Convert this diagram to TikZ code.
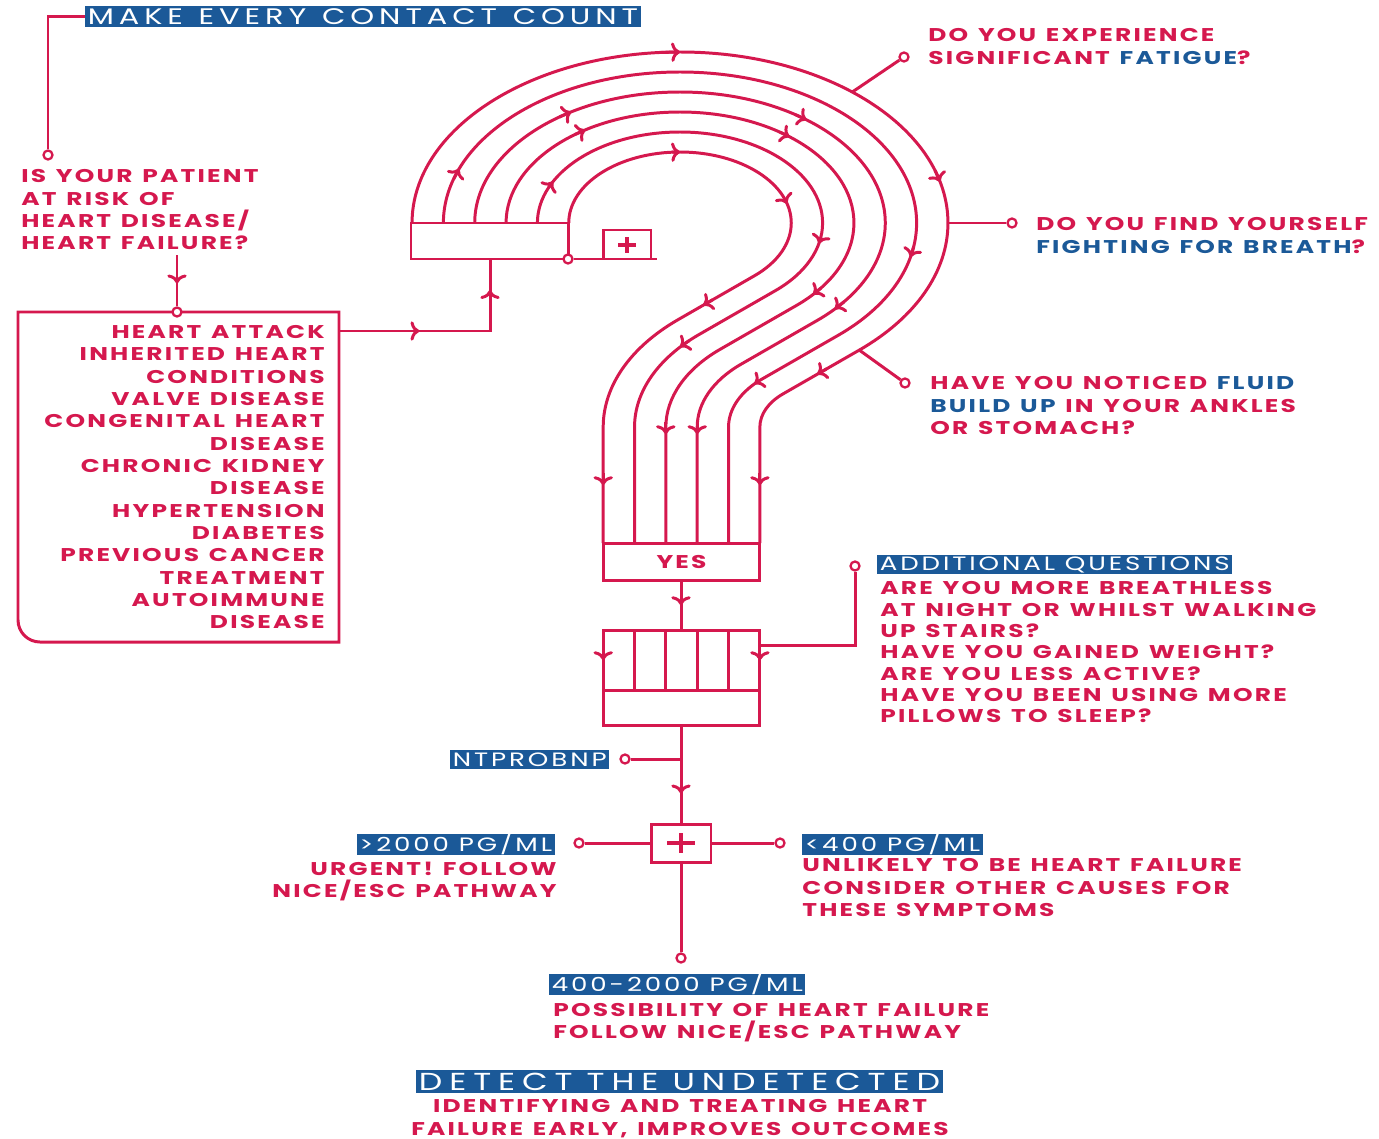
\documentclass[tikz,border=0pt]{standalone}
\usepackage{fontspec}
\newfontfamily\hffont{Poppins}[FakeStretch=1.35,LetterSpace=12,WordSpace=1.3]
\newfontfamily\hftitle{Poppins}[FakeStretch=1.35,LetterSpace=22,WordSpace=1.2]
\newfontfamily\hffoot{Poppins}[FakeStretch=1.35,LetterSpace=28,WordSpace=0.9]
\newfontfamily\hftag{Poppins}[FakeStretch=1.35,LetterSpace=15]
\usetikzlibrary{arrows.meta,decorations.markings,calc}
\definecolor{hfred}{RGB}{213,24,78}
\definecolor{hfblue}{RGB}{27,89,152}

% arrowhead on an elliptic arc: centre, x radius, y radius, angle
\newcommand\arcmark[5]{%
  \draw[flowtip] ({#1+(#3)*cos(#5-4)},{#2+(#4)*sin(#5-4)})
    -- ({#1+(#3)*cos(#5)},{#2+(#4)*sin(#5)});}

\begin{document}
\begin{tikzpicture}[
  x=0.02cm,
  y=-0.02cm,
  flow/.style={draw=hfred, line width=1.7pt},
  link/.style={draw=hfred, line width=1.7pt},
  flowtip/.style={draw=hfred, line width=1.7pt, -{To[length=5pt,width=11pt]}},
  midtip/.style={postaction={decorate,decoration={markings,
    mark=at position #1 with {\arrow{To[length=5pt,width=11pt]}}}}},
  body/.style={text=hfred, inner sep=0pt, font={\hffont\bfseries\fontsize{10.5}{12.7}\selectfont}},
  tag/.style={fill=hfblue, text=white, inner xsep=0.05cm, inner ysep=0pt,
    minimum height=0.38cm, font={\hftag\fontsize{11}{13}\selectfont}},
  headtag/.style={tag, minimum height=0.44cm, font={\hftitle\fontsize{12.8}{14}\selectfont}},
  dot/.style={circle, draw=hfred, fill=white, line width=1.3pt, inner sep=0pt, minimum size=0.18cm},
  plusbox/.style={draw=hfred, line width=1.7pt, fill=white, inner sep=0pt}
]
\useasboundingbox (0,0) rectangle (1379,1139);

% question mark lines
\foreach \i in {0,...,5} {
  \pgfmathsetmacro\qr{71+20*\i}
  \pgfmathsetmacro\qrx{1.567*\qr}
  \pgfmathsetmacro\qb{144.5-20*\i}
  \pgfmathsetmacro\qbx{1.567*\qb}
  \draw[flow] ({680-\qrx},223) arc[start angle=180, end angle=408, x radius=\qrx, y radius=\qr]
    -- ({829.6-0.669*\qbx},{427-0.743*\qb})
    arc[start angle=228, end angle=180, x radius=\qbx, y radius=\qb]
    -- ({829.6-\qbx},543);
}

% arrows along the lines
\arcmark{680}{223}{111.3}{71}{270}
\arcmark{680}{223}{111.3}{71}{344}
\draw[flowtip] ($(754.5,275.8)!0.55!(678.1,319.6)$) -- ($(754.5,275.8)!0.67!(678.1,319.6)$);
\draw[flowtip] (603.2,473) -- (603.2,485);
\arcmark{680}{223}{142.6}{91}{207}
\arcmark{680}{223}{142.6}{91}{373}
\arcmark{829.6}{427}{-195.1}{124.5}{-40}
\arcmark{680}{223}{173.9}{111}{237}
\arcmark{680}{223}{173.9}{111}{309}
\arcmark{680}{223}{173.9}{111}{400}
\draw[flowtip] (665.8,422) -- (665.8,434);
\arcmark{680}{223}{205.3}{131}{238}
\arcmark{680}{223}{205.3}{131}{308}
\arcmark{680}{223}{205.3}{131}{401}
\draw[flowtip] (697.2,422) -- (697.2,434);
\arcmark{680}{223}{236.6}{151}{201}
\arcmark{680}{223}{236.6}{151}{373}
\arcmark{829.6}{427}{-101.1}{64.5}{-42}
\arcmark{680}{223}{268}{171}{270}
\arcmark{680}{223}{268}{171}{346}
\draw[flowtip] ($(859.3,350.1)!0.43!(783,393.9)$) -- ($(859.3,350.1)!0.55!(783,393.9)$);
\draw[flowtip] (759.9,473) -- (759.9,485);

% top box with the plus
\draw[flow] (411,223) rectangle (568,259);
\node[plusbox, minimum width=0.96cm, minimum height=0.58cm] (plusA) at (627,244.5) {};
\draw[flow, line width=2pt] (618,245) -- (636,245) (627,237) -- (627,253);
\node[dot] (qdot) at (568,259) {};
\coordinate (qend) at (657,259);
\draw[link] (qdot) -- (qend);

% title and risk question
\node[headtag, anchor=west] (mecc) at (85,16.5) {MAKE EVERY CONTACT COUNT};
\node[dot] (mecdot) at (48,155) {};
\draw[link] (mecc.west) -| (mecdot);
\node[body, anchor=north west, align=left] (riskq) at (21,169.5)
  {IS YOUR PATIENT\\AT RISK OF\\HEART DISEASE/\\HEART FAILURE?};

% risk factors
\draw[flow] (339,312) -- (18,312) -- (18,620)
  arc[start angle=180, end angle=90, radius=22] -- (339,642) -- cycle;
\node[body, anchor=north east, align=right] (risk) at (325,325.2)
  {HEART ATTACK\\INHERITED HEART\\CONDITIONS\\VALVE DISEASE\\CONGENITAL HEART\\DISEASE\\
   CHRONIC KIDNEY\\DISEASE\\HYPERTENSION\\DIABETES\\PREVIOUS CANCER\\TREATMENT\\
   AUTOIMMUNE\\DISEASE};
\node[dot] (riskdot) at (177,312) {};
\coordinate (riskin) at (177,255);
\draw[link, midtip=0.55] (riskin) -- (riskdot);
\coordinate (riskout) at (339,331);
\coordinate (qin) at (490,259);
\draw[link, midtip=0.36, midtip=0.86] (riskout) -| (qin);

% symptom questions
\coordinate (fatjoin) at (852.3,92);
\node[dot] (fatdot) at (904,57) {};
\draw[link] (fatjoin) -- (fatdot);
\node[body, anchor=north west, align=left] (fatigue) at (928,28.5)
  {DO YOU EXPERIENCE\\SIGNIFICANT \textcolor{hfblue}{FATIGUE}?};
\coordinate (brjoin) at (948,223);
\node[dot] (brdot) at (1012,223) {};
\draw[link] (brjoin) -- (brdot);
\node[body, anchor=north west, align=left] (breath) at (1036,217.5)
  {DO YOU FIND YOURSELF\\\textcolor{hfblue}{FIGHTING FOR BREATH}?};
\coordinate (fljoin) at (859.3,350.1);
\node[dot] (fldot) at (905,383) {};
\draw[link] (fljoin) -- (fldot);
\node[body, anchor=north west, align=left] (fluid) at (930,376.5)
  {HAVE YOU NOTICED \textcolor{hfblue}{FLUID}\\\textcolor{hfblue}{BUILD UP} IN YOUR ANKLES\\OR STOMACH?};

% yes and the grid
\draw[flow] (603.2,543) rectangle (759.9,580);
\node[body] (yes) at (681.5,561.5) {YES};
\draw[flow] (603.2,630) rectangle (759.9,725);
\draw[flow] (603.2,690) -- (759.9,690);
\foreach \x in {634.5,665.8,697.2,728.5}
  \draw[flow] (\x,630) -- (\x,690);
\draw[flowtip] (603.2,648) -- (603.2,660);
\draw[flowtip] (759.9,648) -- (759.9,660);
\coordinate (yesout) at (681,580);
\coordinate (gridin) at (681,630);
\draw[link, midtip=0.5] (yesout) -- (gridin);

% additional questions
\node[dot] (addot) at (855,566) {};
\coordinate (gridside) at (759.9,645);
\draw[link] (gridside) -| (addot);
\node[tag, anchor=west] (addtag) at (877,564.5) {ADDITIONAL QUESTIONS};
\node[body, anchor=north west, align=left, font={\hffont\bfseries\fontsize{10.5}{12.1}\selectfont}] (addq) at (880,581.5)
  {ARE YOU MORE BREATHLESS\\AT NIGHT OR WHILST WALKING\\UP STAIRS?\\HAVE YOU GAINED WEIGHT?\\
   ARE YOU LESS ACTIVE?\\HAVE YOU BEEN USING MORE\\PILLOWS TO SLEEP?};

% NTproBNP test
\coordinate (gridout) at (681,725);
\node[plusbox, minimum width=1.2cm, minimum height=0.76cm] (plusB) at (681,843) {};
\draw[flow, line width=2.5pt] (667,843) -- (695,843) (681,833) -- (681,853);
\draw[link, midtip=0.7] (gridout) -- (plusB);
\node[dot] (ntdot) at (625,759) {};
\draw[link] (ntdot) -- (ntdot -| gridout);
\node[tag, anchor=east] (nttag) at (609.5,759.5) {NTPROBNP};

% results
\node[dot] (hidot) at (579,843) {};
\node[dot] (lodot) at (780,843) {};
\node[dot] (middot) at (681,958) {};
\draw[link] (plusB) -- (hidot);
\draw[link] (plusB) -- (lodot);
\draw[link] (plusB) -- (middot);
\node[tag, anchor=east] (hitag) at (555,844.5) {>2000 PG/ML};
\node[body, anchor=north east, align=right] (hitext) at (557,861.5)
  {URGENT! FOLLOW\\NICE/ESC PATHWAY};
\node[tag, anchor=west] (lotag) at (802,844.5) {<400 PG/ML};
\node[body, anchor=north west, align=left] (lotext) at (802,858.5)
  {UNLIKELY TO BE HEART FAILURE\\CONSIDER OTHER CAUSES FOR\\THESE SYMPTOMS};
\node[tag, anchor=west] (midtag) at (549,984.5) {400-2000 PG/ML};
\node[body, anchor=north west, align=left] (midtext) at (553,1002.5)
  {POSSIBILITY OF HEART FAILURE\\FOLLOW NICE/ESC PATHWAY};

% footer
\node[headtag, minimum height=0.46cm, font={\hffoot\fontsize{14}{16}\selectfont}] (detect) at (679.5,1081.5) {DETECT THE UNDETECTED};
\node[body, anchor=north, align=center] (outcome) at (680,1099.5)
  {IDENTIFYING AND TREATING HEART\\FAILURE EARLY, IMPROVES OUTCOMES};
\end{tikzpicture}
\end{document}
